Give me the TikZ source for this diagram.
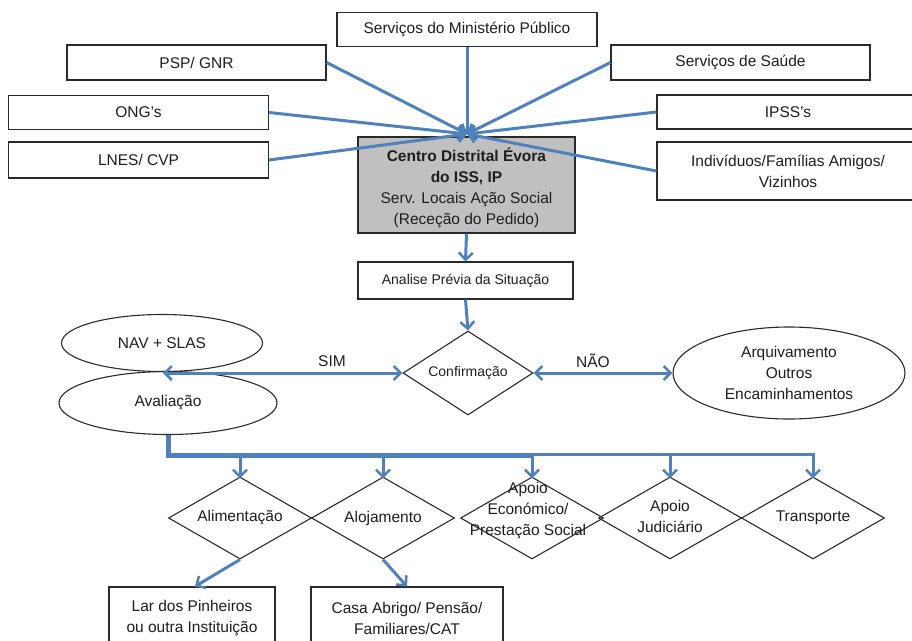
\documentclass[tikz,border=0pt]{standalone}
\usepackage{fontspec}
\setmainfont{Liberation Sans}
\usetikzlibrary{shapes.geometric,arrows.meta}
\definecolor{lblue}{HTML}{4F81BD}
\definecolor{gfill}{HTML}{C0C0C0}
\definecolor{edge}{HTML}{2A2A2A}
\definecolor{txt}{HTML}{1E1E1E}
\begin{document}
\begin{tikzpicture}[x=1pt,y=-1pt,
  every node/.style={font=\fontsize{15.5}{21}\selectfont, text=txt},
  small/.style={font=\fontsize{14}{18}\selectfont},
  box/.style={draw=edge, line width=1.1pt, fill=white, rectangle, inner sep=0pt, align=center},
  dia/.style={draw=edge, line width=1.1pt, diamond, inner sep=0pt, minimum width=143pt, minimum height=82pt},
  ell/.style={draw=edge, line width=1.1pt, ellipse, inner sep=0pt, align=center},
  tip/.style={-{Straight Barb[length=7pt,width=14pt,line width=2.5pt]}},
  conn/.style={draw=lblue, line width=3pt, tip},
  dconn/.style={draw=lblue, line width=3pt, {Straight Barb[length=7pt,width=14pt,line width=2.5pt]}-{Straight Barb[length=7pt,width=14pt,line width=2.5pt]}}]
\useasboundingbox (0,0) rectangle (912,640);
\clip (0,0) rectangle (912,640);

% top boxes
\node[box, minimum width=260pt, minimum height=34pt] (mp) at (467,29.5) {Serviços do Ministério Público};
\node[box, minimum width=259pt, minimum height=35pt] (psp) at (196.5,62.5) {PSP/ GNR};
\node[box, minimum width=259pt, minimum height=35pt] (saude) at (740.5,62.5) {Serviços de Saúde};
\node[box, minimum width=260pt, minimum height=34pt] (ong) at (138.5,112.5) {ONG’s};
\node[box, minimum width=260pt, minimum height=36pt] (lnes) at (138.5,160) {LNES/ CVP};
\node[box, minimum width=262pt, minimum height=34pt] (ipss) at (788,112) {IPSS’s};
\node[box, minimum width=262pt, minimum height=58pt] (indiv) at (788,171) {Indivíduos/Famílias Amigos/\\Vizinhos};

% central box
\node[box, fill=gfill, minimum width=217pt, minimum height=96pt] (centro) at (466.5,185)
  {};
\node[align=center] (centrotxt) at (466.5,188)
  {\textbf{Centro Distrital Évora}\\\textbf{do ISS, IP}\\Serv. Locais Ação Social\\(Receção do Pedido)};
\coordinate (hub) at (467,134);

\node[box, small, minimum width=215pt, minimum height=37pt] (analise) at (465.5,280.5) {Analise Prévia da Situação};
\node[dia, minimum width=130pt, minimum height=84pt, label={[small]center:Confirmação}] (conf) at (468,373) {};

\node[ell, minimum width=201pt, minimum height=57pt] (nav) at (162,343) {NAV + SLAS};
\node[ell, minimum width=218pt, minimum height=63pt] (aval) at (168,403) {Avaliação};
\node[ell, minimum width=232pt, minimum height=92pt] (arq) at (789,373) {Arquivamento\\Outros\\Encaminhamentos};
\coordinate (simend) at (163,373);

\node (sim) at (332,361) {SIM};
\node (nao) at (593,361) {NÃO};

% bottom diamonds
\node[dia, label={center:Alimentação}] (al) at (240,518) {};
\node[dia, label={center:Alojamento}] (alo) at (383,518) {};
\node[dia, label={[align=center, xshift=-4pt, yshift=7pt]center:{Apoio\\Económico/\\Prestação Social}}] (eco) at (532,518) {};
\node[dia, label={[align=center, yshift=2pt]center:{Apoio\\Judiciário}}] (jud) at (670,518) {};
\node[dia, label={center:Transporte}] (tr) at (813,518) {};

\node[box, minimum width=166pt, minimum height=62pt] (lar) at (192,618) {Lar dos Pinheiros\\ou outra Instituição};
\node[box, minimum width=192pt, minimum height=62pt] (casa) at (407,618) {Casa Abrigo/ Pensão/\\Familiares/CAT};

% converging connectors
\draw[conn] (mp.south) -- (hub);
\draw[conn] (psp.east) -- (hub);
\draw[conn] (saude.west) -- (hub);
\draw[conn] (ong.east) -- (hub);
\draw[conn] (ipss.west) -- (hub);
\draw[conn] (lnes.east) -- (hub);
\draw[conn] (indiv.west) -- (hub);

\draw[conn] (centro.south) -- (analise.north);
\draw[conn] (analise.south) -- (conf.north);
\draw[dconn] (simend) -- (conf.west);
\draw[dconn] (conf.east) -- (arq.west);

% bus
\coordinate (b1) at (240,455);
\coordinate (b2) at (383,455);
\coordinate (b3) at (532,455);
\coordinate (b3t) at (532,454);
\coordinate (b4) at (670,454);
\draw[lblue, line width=5pt] (aval.south) |- (b3);
\draw[lblue, line width=3pt] (b3t) -| ([yshift=-2pt]tr.north);
\draw[conn] (b1) -- ([yshift=-2pt]al.north);
\draw[conn] (b2) -- ([yshift=-2pt]alo.north);
\draw[conn] (b3) -- ([yshift=-2pt]eco.north);
\draw[conn] (b4) -- ([yshift=-2pt]jud.north);
\draw[conn] (tr.north |- b4) -- ([yshift=-2pt]tr.north);

\draw[conn] (al.south) -- ([xshift=3pt]lar.north);
\draw[conn] (alo.south) -- (casa.north);
\end{tikzpicture}
\end{document}
